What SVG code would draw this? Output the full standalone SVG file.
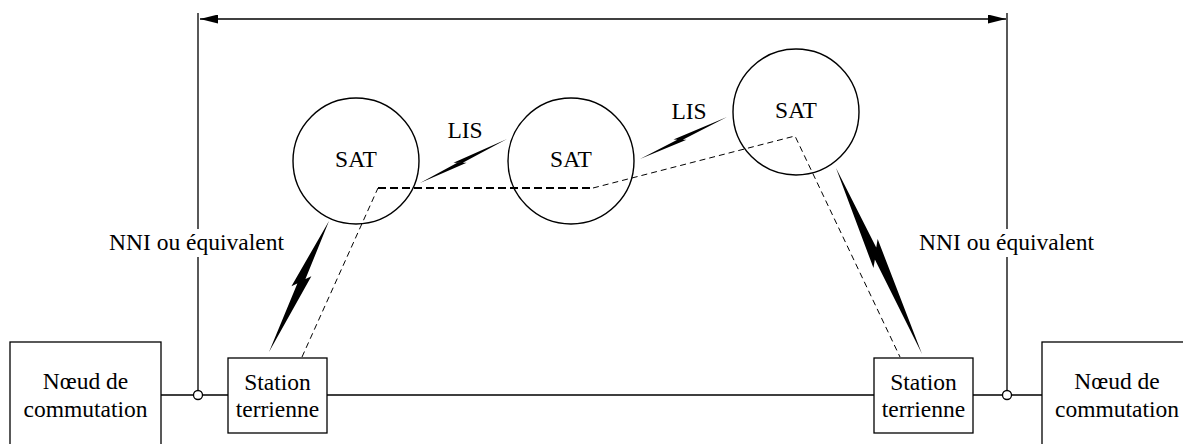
<svg xmlns="http://www.w3.org/2000/svg" xmlns:xlink="http://www.w3.org/1999/xlink" width="1183" height="444" viewBox="0 0 1183 444">
<style>
.ln{stroke:#000;stroke-width:1.3;fill:none}
.box{stroke:#000;stroke-width:1.3;fill:#fff}
.sat{stroke:#000;stroke-width:1.4;fill:none}
.tx{font-family:'Liberation Serif','Times New Roman','DejaVu Serif',serif;font-size:23.5px;fill:#000;text-anchor:middle}
.dash{stroke:#000;stroke-width:1;fill:none;stroke-dasharray:6 4}
.dashb{stroke:#000;stroke-width:2.2;fill:none;stroke-dasharray:8 4}
.bolt{fill:#000;stroke:none}
.jn{stroke:#000;stroke-width:1.3;fill:#fff}
</style>
<defs>
<marker id="arr" viewBox="0 0 20 10" refX="20" refY="5" markerWidth="20" markerHeight="9" markerUnits="userSpaceOnUse" orient="auto-start-reverse">
<path d="M0,0 L20,5 L0,10 Z" fill="#000"/>
</marker>
<path id="bolt" d="M0,0 L52,1 L44,-0.4 Z M100,0 L40,-1 L48,0.4 Z"/>
</defs>
<rect width="1183" height="444" fill="#fff"/>
<g id="connectors" font-family="Liberation Serif, serif">
<line class="ln" x1="200" y1="19" x2="1006" y2="19" marker-start="url(#arr)" marker-end="url(#arr)"/>
<path class="ln" d="M198,13 V229 M198,257 V390.5"/>
<path class="ln" d="M1007,13 V229 M1007,257 V390.5"/>
<path class="ln" d="M161,395 H193.5 M202.5,395 H228 M327,395 H874 M973,395 H1002.5 M1011.5,395 H1042"/>
<circle class="jn" cx="198" cy="395" r="4.5"/>
<circle class="jn" cx="1007" cy="395" r="4.5"/>
<path class="dash" d="M302,357 L378,188"/>
<path class="dashb" d="M378,188 L593,188"/>
<path class="dash" d="M593,188 L795,136 L900,357"/>
<use xlink:href="#bolt" class="bolt" transform="translate(329,221) rotate(114.6) scale(1.441,7)"/>
<use xlink:href="#bolt" class="bolt" transform="translate(836,168) rotate(65.18) scale(2.049,8)"/>
<use xlink:href="#bolt" class="bolt" transform="translate(420,183) rotate(-26.83) scale(0.975,3)"/>
<use xlink:href="#bolt" class="bolt" transform="translate(640,159) rotate(-25.77) scale(0.966,3)"/>
<text class="tx" font-family="Liberation Serif, serif" x="465" y="138">LIS</text>
<text class="tx" font-family="Liberation Serif, serif" x="689" y="119">LIS</text>
<text class="tx" font-family="Liberation Serif, serif" x="196.5" y="250">NNI ou équivalent</text>
<text class="tx" font-family="Liberation Serif, serif" x="1006.5" y="250">NNI ou équivalent</text>
</g>
<g id="sat1">
<circle class="sat" cx="356" cy="161" r="63"/>
<text class="tx" font-family="Liberation Serif, serif" x="356" y="167">SAT</text>
</g>
<g id="sat2">
<circle class="sat" cx="571" cy="161" r="63"/>
<text class="tx" font-family="Liberation Serif, serif" x="571" y="167">SAT</text>
</g>
<g id="sat3">
<circle class="sat" cx="796" cy="112" r="63"/>
<text class="tx" font-family="Liberation Serif, serif" x="796" y="118">SAT</text>
</g>
<g id="noeud-gauche">
<rect class="box" x="10" y="342" width="151" height="112"/>
<text class="tx" font-family="Liberation Serif, serif" x="85.5" y="389">Nœud de</text>
<text class="tx" font-family="Liberation Serif, serif" x="85.5" y="417">commutation</text>
</g>
<g id="station-gauche">
<rect class="box" x="228" y="358" width="99" height="75"/>
<text class="tx" font-family="Liberation Serif, serif" x="277.5" y="390">Station</text>
<text class="tx" font-family="Liberation Serif, serif" x="277.5" y="417">terrienne</text>
</g>
<g id="station-droite">
<rect class="box" x="874" y="358" width="99" height="75"/>
<text class="tx" font-family="Liberation Serif, serif" x="923.5" y="390">Station</text>
<text class="tx" font-family="Liberation Serif, serif" x="923.5" y="417">terrienne</text>
</g>
<g id="noeud-droite">
<rect class="box" x="1042" y="342" width="151" height="112"/>
<text class="tx" font-family="Liberation Serif, serif" x="1117" y="389">Nœud de</text>
<text class="tx" font-family="Liberation Serif, serif" x="1117" y="417">commutation</text>
</g>
</svg>
